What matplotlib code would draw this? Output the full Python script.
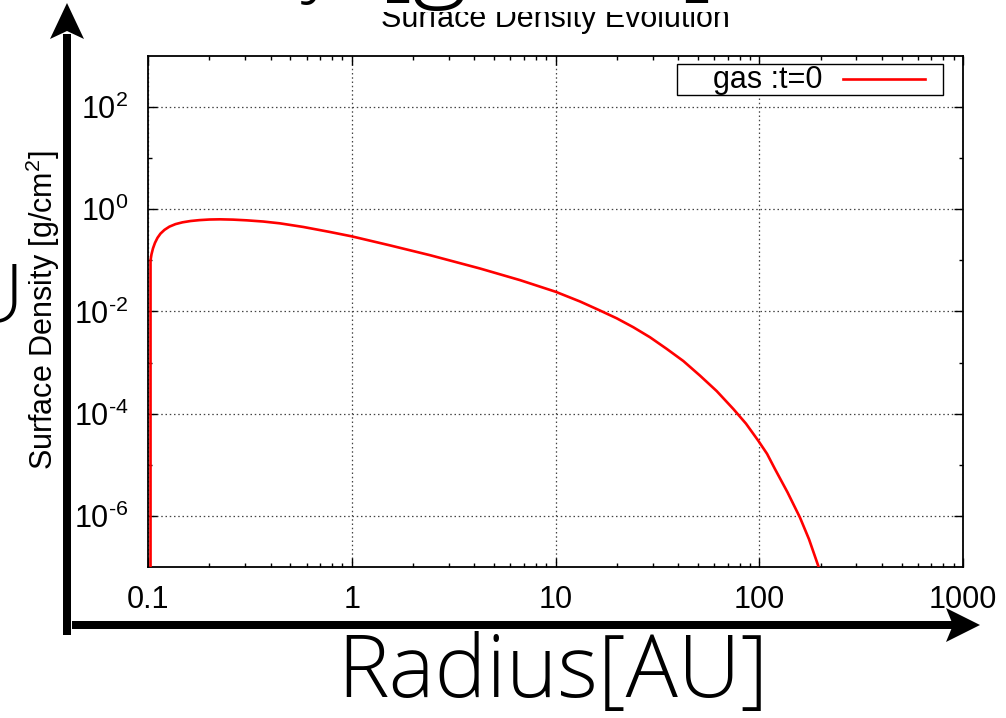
import matplotlib
matplotlib.use('Agg')
import matplotlib.pyplot as plt
from matplotlib.patches import Rectangle, Polygon
from matplotlib.lines import Line2D
from matplotlib.ticker import FixedLocator, FixedFormatter, NullFormatter

# ---- data ----
radius = [0.1029, 0.1029, 0.1040, 0.1058, 0.1082, 0.1113, 0.1151, 0.1205, 0.1274, 0.1364,
          0.1476, 0.1616, 0.1788, 0.2002, 0.2254, 0.2610, 0.3047, 0.3675, 0.4437, 0.5771,
          0.7800, 1.0, 1.540, 2.421, 4.261, 6.697, 10.0, 13.19, 16.53, 19.97,
          24.09, 29.09, 35.14, 42.39, 51.19, 61.82, 74.61, 86.08, 98.93, 109.2,
          119.5, 137.6, 158.5, 175.5, 194.9, 203.3]
sigma = [1e-9, 0.100, 0.1311, 0.1719, 0.2203, 0.2762, 0.3339, 0.3963, 0.4579, 0.5127,
         0.5559, 0.5896, 0.6141, 0.6310, 0.6366, 0.6281, 0.6085, 0.5765, 0.5314, 0.4518,
         0.3604, 0.2955, 0.1968, 0.1265, 0.0694, 0.0411, 0.02439, 0.01571, 0.01046, 0.00736,
         0.004923, 0.003133, 0.001856, 0.001075, 5.56e-4, 2.773e-4, 1.237e-4, 6.394e-5, 2.955e-5, 1.643e-5,
         8.235e-6, 2.902e-6, 9.26e-7, 3.49e-7, 1.046e-7, 6.08e-8]
series_label = 'gas :t=0'
x_ticks = [0.1, 1, 10, 100, 1000]
x_tick_labels = ['0.1', '1', '10', '100', '1000']
y_ticks = [1e-6, 1e-4, 1e-2, 1e0, 1e2]
y_tick_labels = [r'10$^{\text{-6}}$', r'10$^{\text{-4}}$', r'10$^{\text{-2}}$',
                 r'10$^{\text{0}}$', r'10$^{\text{2}}$']
y_minor = [1e-5, 1e-3, 1e-1, 1e1]
x_minor = [k * 10.0 ** e for e in range(-1, 3) for k in range(2, 10)]
title = 'Surface Density Evolution'
y_label = r'Surface Density [g/cm$^2$]'
big_x_label = 'Radius[AU]'
big_top_word = 'Surface Density'
big_top_unit = '[g/cm²]'

plt.rcParams['font.family'] = ['Liberation Sans', 'DejaVu Sans']
plt.rcParams['mathtext.fontset'] = 'custom'
plt.rcParams['mathtext.rm'] = 'Liberation Sans'
plt.rcParams['mathtext.it'] = 'Liberation Sans:italic'
plt.rcParams['mathtext.bf'] = 'Liberation Sans:bold'

W, H = 1006, 718
fig = plt.figure(figsize=(W / 100, H / 100), dpi=100)
L, R, T, B = 148, 963, 56, 567
ax = fig.add_axes([L / W, 1 - B / H, (R - L) / W, (B - T) / H])
ax.set_xscale('log')
ax.set_yscale('log')
ax.set_xlim(0.1, 1000)
ax.set_ylim(1e-7, 1e3)
ax.set_axisbelow(True)
line, = ax.plot(radius, sigma, color='#ff0000', lw=1.9, solid_joinstyle='round', zorder=3)

ax.xaxis.set_major_locator(FixedLocator(x_ticks))
ax.xaxis.set_major_formatter(FixedFormatter(x_tick_labels))
ax.xaxis.set_minor_locator(FixedLocator(x_minor))
ax.xaxis.set_minor_formatter(NullFormatter())
ax.yaxis.set_major_locator(FixedLocator(y_ticks))
ax.yaxis.set_major_formatter(FixedFormatter(y_tick_labels))
ax.yaxis.set_minor_locator(FixedLocator(y_minor))
ax.yaxis.set_minor_formatter(NullFormatter())

ax.tick_params(which='both', direction='in', top=True, right=True, width=1.0, colors='black')
ax.tick_params(which='major', length=6.5, labelsize=22)
ax.tick_params(axis='x', which='major', pad=13)
ax.tick_params(axis='y', which='major', pad=14)
ax.tick_params(which='minor', length=3.2)
ax.grid(which='major', linestyle=(0, (1.2, 2.2)), color='#444444', lw=0.9)
for s in ax.spines.values():
    s.set_linewidth(1.3)
ax.set_title(title, fontsize=22, pad=21)

# ---- overlay in pixel coordinates ----
ov = fig.add_axes([0, 0, 1, 1], zorder=10)
ov.set_xlim(0, W)
ov.set_ylim(H, 0)
ov.axis('off')
ov.patch.set_alpha(0)

# white band hiding the upper half of the title
ov.add_patch(Rectangle((360, 0), 400, 12, facecolor='white', edgecolor='none', zorder=1))

# legend
ov.add_patch(Rectangle((677, 64), 266, 31, facecolor='white', edgecolor='black', lw=1.0, zorder=2))
ov.text(823, 80, series_label, fontsize=22, ha='right', va='center', zorder=3)
ov.add_line(Line2D([843, 925], [79, 79], color=line.get_color(), lw=1.9, zorder=3))

# y label
ov.text(43, 310, y_label, fontsize=22, rotation=90, ha='center', va='center')

# big arrows
ov.add_patch(Rectangle((63, 34), 8, 601, facecolor='black', edgecolor='none', zorder=4))
ov.add_patch(Polygon([(67, 3), (84, 39), (67, 31), (50, 39)], closed=True,
                     facecolor='black', edgecolor='none', zorder=4))
ov.add_patch(Rectangle((72, 621), 882, 8, facecolor='black', edgecolor='none', zorder=4))
ov.add_patch(Polygon([(980, 625), (946, 608), (953, 625), (946, 642)], closed=True,
                     facecolor='black', edgecolor='none', zorder=4))

# big texts (sizes fitted to the widths seen in the reference)
big_font = dict(family=['Open Sans', 'Roboto', 'Liberation Sans'], fontweight='light')
renderer = fig.canvas.get_renderer()


def fit_text(x, y, s, width_px, ha, size0=60):
    t = ov.text(x, y, s, fontsize=size0, ha=ha, va='baseline', zorder=4, **big_font)
    w = t.get_window_extent(renderer).width
    t.set_fontsize(size0 * width_px / w)
    return t


fit_text(553, 697, big_x_label, 432, 'center')
ov.text(-6, 322, 'U', fontsize=58, ha='center', va='baseline', zorder=4, **big_font)
fit_text(378, -14, big_top_unit, 339, 'left', size0=74)
fit_text(338, -14, big_top_word, 560, 'right', size0=74)

fig.savefig('out.png', dpi=100)
